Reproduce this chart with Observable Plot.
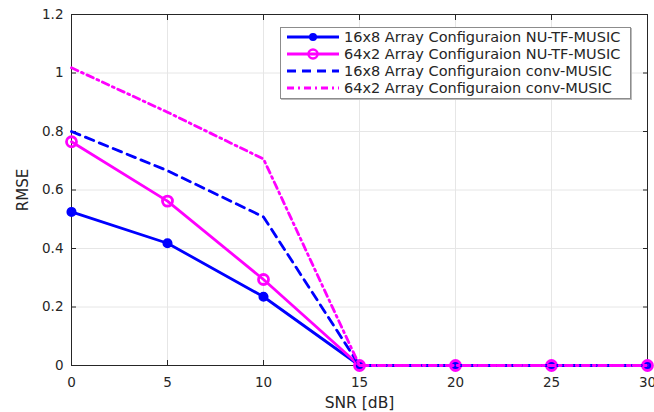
<!DOCTYPE html>
<html><head><meta charset="utf-8">
<script src="https://cdn.jsdelivr.net/npm/d3@7"></script>
<script src="https://cdn.jsdelivr.net/npm/@observablehq/plot@0.6"></script>
<style>
body{margin:0;background:#fff;}
#wrap{position:relative;width:654px;height:412px;font-family:"DejaVu Sans",sans-serif;}
#legend{position:absolute;left:280px;top:27px;width:349px;height:70px;border:1px solid #8c8c8c;background:#fff;box-shadow:1px 1px 0 #bbb;font-size:14.5px;color:#262626;}
.row{height:17px;display:flex;align-items:center;margin-left:5px;white-space:nowrap;}
.row svg{margin-right:4px;flex:none;}
</style></head>
<body><div id="wrap"><div id="legend"></div></div>
<script>
const snr = [0,5,10,15,20,25,30];
const nu16 = [0.525,0.418,0.235,0,0,0,0];
const nu64 = [0.765,0.562,0.294,0,0,0,0];
const conv16 = [0.80,0.666,0.508,0,0,0,0];
const conv64 = [1.018,0.866,0.706,0,0,0,0];
const seriesNames = ["16x8 Array Configuraion NU-TF-MUSIC","64x2 Array Configuraion NU-TF-MUSIC","16x8 Array Configuraion conv-MUSIC","64x2 Array Configuraion conv-MUSIC"];
const xTicks = [0,5,10,15,20,25,30];
const yTicks = [0,0.2,0.4,0.6,0.8,1,1.2];

const blue = "#0000ff", mag = "#ff00ff";
const mk = arr => snr.map((x,i)=>({x, y: arr[i]}));
const d16 = mk(nu16), d64 = mk(nu64), c16 = mk(conv16), c64 = mk(conv64);
const txt = "#262626";
const dashA = "9,6", dashDot = "7,4,2,4";

const chart = Plot.plot({
  width: 654, height: 412,
  marginLeft: 71, marginRight: 7, marginTop: 14, marginBottom: 47,
  style: {fontFamily: '"DejaVu Sans", sans-serif', fontSize: "13.5px", color: txt, background: "#fff"},
  x: {domain: [0,30], ticks: xTicks},
  y: {domain: [0,1.2], ticks: yTicks},
  marks: [
    Plot.gridX(xTicks, {stroke: "#e6e6e6", strokeOpacity: 1}),
    Plot.gridY(yTicks, {stroke: "#e6e6e6", strokeOpacity: 1}),
    Plot.frame({stroke: "#262626", strokeWidth: 1}),
    Plot.axisX(xTicks, {anchor: "bottom", tickSize: -5, tickPadding: 17, tickFormat: d => d, label: null, stroke: txt, fill: txt}),
    Plot.axisX({anchor: "bottom", ticks: [], label: "SNR [dB]", labelAnchor: "center", labelArrow: "none", labelOffset: 42, fill: txt, fontSize: 15.5}),
    Plot.axisX(xTicks, {anchor: "top", tickSize: -5, tickFormat: () => "", label: null, stroke: txt}),
    Plot.axisY(yTicks, {anchor: "left", tickSize: -5, tickPadding: 13, tickFormat: d => d, label: null, stroke: txt, fill: txt}),
    Plot.axisY({anchor: "left", ticks: [], label: "RMSE", labelAnchor: "center", labelArrow: "none", labelOffset: 54, fill: txt, fontSize: 15}),
    Plot.axisY(yTicks, {anchor: "right", tickSize: -5, tickFormat: () => "", label: null, stroke: txt}),
    Plot.line(d16, {x: "x", y: "y", stroke: blue, strokeWidth: 2.8}),
    Plot.dot(d16, {x: "x", y: "y", r: 4.3, fill: blue, stroke: blue}),
    Plot.line(d64, {x: "x", y: "y", stroke: mag, strokeWidth: 2.8}),
    Plot.dot(d64, {x: "x", y: "y", r: 5, fill: "none", stroke: mag, strokeWidth: 2.8}),
    Plot.line(c16, {x: "x", y: "y", stroke: blue, strokeWidth: 2.8, strokeDasharray: dashA}),
    Plot.line(c64, {x: "x", y: "y", stroke: mag, strokeWidth: 2.8, strokeDasharray: dashDot})
  ]
});
document.getElementById("wrap").prepend(chart);

const styles = [
  {stroke: blue, dash: null, marker: "filled"},
  {stroke: mag, dash: null, marker: "open"},
  {stroke: blue, dash: dashA, marker: null},
  {stroke: mag, dash: dashDot, marker: null}
];
const leg = d3.select("#legend");
seriesNames.forEach((name, i) => {
  const s = styles[i];
  const row = leg.append("div").attr("class", "row");
  const svg = row.append("svg").attr("width", 54).attr("height", 14);
  svg.append("line").attr("x1", 1).attr("x2", 53).attr("y1", 7).attr("y2", 7)
    .attr("stroke", s.stroke).attr("stroke-width", 2.8).attr("stroke-dasharray", s.dash);
  if (s.marker === "filled") svg.append("circle").attr("cx", 27).attr("cy", 7).attr("r", 4).attr("fill", s.stroke);
  if (s.marker === "open") svg.append("circle").attr("cx", 27).attr("cy", 7).attr("r", 4.5).attr("fill", "none").attr("stroke", s.stroke).attr("stroke-width", 2.5);
  row.append("span").text(name);
});
</script></body></html>
